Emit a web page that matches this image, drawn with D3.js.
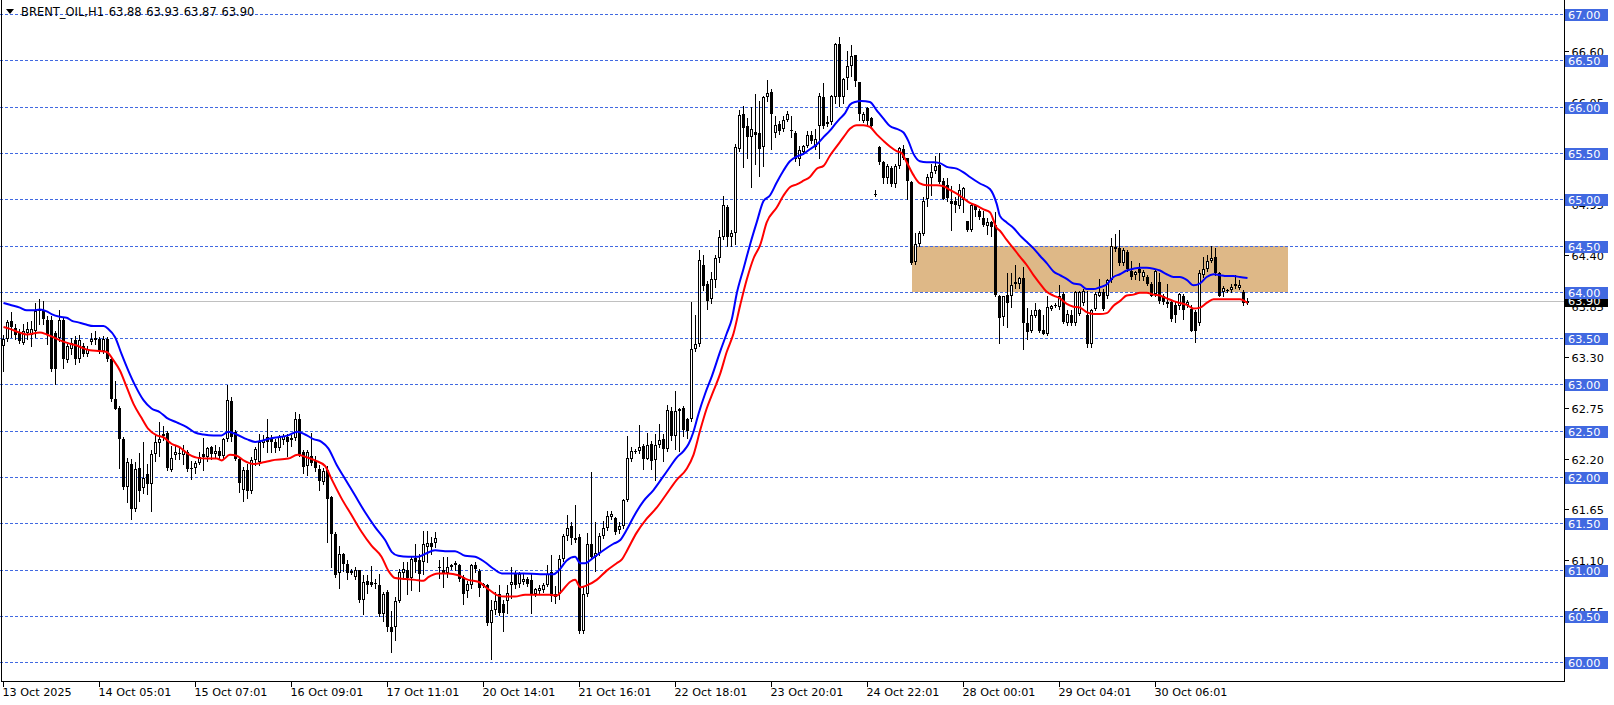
<!DOCTYPE html>
<html><head><meta charset="utf-8">
<script src="https://cdn.jsdelivr.net/npm/d3@7"></script>
<style>body{margin:0;background:#fff;overflow:hidden}svg{display:block}</style>
</head><body><svg id="chart" width="1614" height="705"></svg>
<script>
// ---------- DATA ----------
const chartTitle = "BRENT_OIL,H1 63.88 63.93 63.87 63.90";
// hourly candles: [open, high, low, close]
const ohlc = [
[63.42,63.53,63.15,63.49],[63.49,63.70,63.47,63.67],[63.69,63.78,63.51,63.62],[63.61,63.65,63.49,63.53],
[63.56,63.60,63.45,63.47],[63.45,63.65,63.44,63.58],[63.56,63.67,63.49,63.60],[63.53,63.69,63.42,63.60],
[63.58,63.88,63.51,63.79],[63.79,63.92,63.65,63.80],[63.80,63.90,63.65,63.71],[63.70,63.74,63.44,63.54],
[63.70,63.74,63.15,63.17],[63.56,63.58,63.01,63.17],[63.50,63.80,63.47,63.70],[63.70,63.73,63.18,63.27],
[63.26,63.44,63.24,63.42],[63.38,63.50,63.33,63.45],[63.48,63.52,63.22,63.27],[63.27,63.53,63.24,63.48],
[63.42,63.45,63.31,63.33],[63.33,63.41,63.31,63.38],[63.46,63.56,63.44,63.49],[63.50,63.58,63.44,63.48],
[63.49,63.51,63.34,63.36],[63.36,63.52,63.34,63.49],[63.49,63.51,63.25,63.28],[63.28,63.29,62.82,62.84],
[62.84,63.04,62.73,62.74],[62.75,62.77,62.10,62.41],[62.41,62.43,61.87,61.89],[61.89,62.21,61.73,62.16],
[62.14,62.19,61.55,61.65],[61.65,62.16,61.63,62.09],[62.10,62.26,61.74,61.85],[61.88,62.38,61.83,61.99],
[62.03,62.14,61.82,61.92],[61.92,62.29,61.63,62.25],[62.25,62.47,62.17,62.38],[62.37,62.59,62.23,62.41],
[62.44,62.55,62.40,62.47],[62.48,62.50,62.08,62.10],[62.08,62.34,62.07,62.21],[62.24,62.34,62.19,62.27],
[62.25,62.31,62.19,62.26],[62.24,62.35,62.14,62.29],[62.27,62.29,62.07,62.09],[62.10,62.17,61.98,62.09],
[62.10,62.17,62.04,62.15],[62.15,62.27,62.14,62.22],[62.25,62.42,62.08,62.22],[62.22,62.33,62.17,62.31],
[62.32,62.34,62.20,62.25],[62.25,62.35,62.22,62.28],[62.28,62.33,62.21,62.23],[62.23,62.42,62.20,62.41],
[62.41,62.99,62.39,62.83],[62.82,62.86,62.39,62.43],[62.49,62.51,62.18,62.20],[62.20,62.22,61.84,61.94],
[61.86,62.11,61.74,62.08],[62.08,62.14,61.77,61.85],[61.85,62.22,61.83,62.18],[62.18,62.33,62.13,62.30],
[62.16,62.47,62.13,62.38],[62.37,62.45,62.32,62.40],[62.43,62.63,62.27,62.38],[62.41,62.45,62.27,62.38],
[62.38,62.41,62.27,62.31],[62.31,62.45,62.29,62.43],[62.40,62.47,62.36,62.44],[62.43,62.47,62.23,62.38],
[62.40,62.45,62.34,62.42],[62.42,62.70,62.40,62.63],[62.63,62.68,62.23,62.24],[62.27,62.29,62.04,62.11],
[62.12,62.29,62.02,62.27],[62.23,62.48,62.13,62.15],[62.18,62.23,62.07,62.10],[62.09,62.13,61.86,61.96],
[61.95,62.10,61.93,62.07],[62.08,62.12,61.30,61.76],[61.78,61.80,61.03,61.39],[61.39,61.41,60.92,60.94],
[60.96,61.26,60.80,61.17],[61.17,61.18,60.99,61.06],[61.06,61.10,60.90,60.96],[60.99,61.01,60.95,60.96],
[60.92,61.03,60.90,61.00],[61.00,61.00,60.65,60.67],[60.67,60.94,60.52,60.87],[60.88,60.94,60.75,60.84],
[60.87,61.04,60.82,60.83],[60.86,60.90,60.80,60.85],[60.83,60.95,60.50,60.52],[60.52,60.76,60.45,60.74],
[60.76,60.78,60.34,60.38],[60.38,60.55,60.11,60.33],[60.38,60.71,60.24,60.66],[60.66,61.01,60.65,60.98],
[60.96,61.08,60.92,61.01],[61.00,61.08,60.74,60.91],[60.91,61.14,60.78,61.12],[61.13,61.28,60.98,61.08],
[61.10,61.17,60.77,60.95],[61.08,61.42,60.95,61.28],[61.25,61.42,61.08,61.29],[61.29,61.35,61.17,61.25],
[61.29,61.41,61.25,61.34],[61.03,61.10,60.91,61.02],[61.00,61.14,60.81,60.96],[60.96,61.14,60.92,61.03],
[61.03,61.06,61.01,61.05],[61.05,61.09,61.00,61.07],[61.05,61.06,60.88,60.90],[60.92,60.94,60.63,60.74],
[60.77,60.88,60.70,60.85],[60.83,61.06,60.80,61.05],[61.05,61.08,60.97,61.01],[60.99,61.01,60.72,60.80],
[60.82,60.86,60.81,60.85],[60.83,60.85,60.40,60.42],[60.42,60.67,60.04,60.56],[60.56,60.76,60.52,60.66],
[60.74,60.83,60.51,60.53],[60.63,60.67,60.34,60.53],[60.66,60.84,60.53,60.75],[60.83,61.03,60.69,60.87],
[60.95,60.99,60.80,60.83],[60.85,60.98,60.81,60.95],[60.87,60.95,60.85,60.90],[60.90,60.92,60.82,60.85],
[60.89,60.95,60.53,60.74],[60.74,60.80,60.72,60.79],[60.77,60.83,60.74,60.80],[60.78,60.86,60.76,60.84],
[60.84,61.05,60.82,60.95],[60.98,61.16,60.66,60.72],[60.74,60.82,60.64,60.70],[60.74,61.16,60.68,61.11],
[61.11,61.38,61.09,61.36],[61.36,61.59,61.32,61.45],[61.47,61.51,61.28,61.34],[61.34,61.70,61.30,61.32],
[61.35,61.38,60.32,60.34],[60.34,60.82,60.32,60.74],[60.74,61.40,60.72,61.28],[61.28,62.05,61.13,61.14],
[61.14,61.51,60.99,61.18],[61.18,61.40,61.16,61.36],[61.36,61.53,61.34,61.45],[61.45,61.63,61.43,61.58],
[61.57,61.63,61.55,61.60],[61.56,61.57,61.39,61.41],[61.43,61.52,61.40,61.47],[61.47,61.76,61.45,61.75],
[61.75,62.44,61.74,62.21],[62.19,62.32,62.17,62.28],[62.27,62.30,62.26,62.28],[62.28,62.56,62.26,62.33],
[62.34,62.36,62.09,62.20],[62.20,62.48,62.19,62.35],[62.36,62.39,62.09,62.17],[62.18,62.47,61.97,62.35],
[62.35,62.57,62.32,62.40],[62.41,62.47,62.17,62.30],[62.30,62.78,62.28,62.72],[62.71,62.76,62.40,62.44],
[62.44,62.93,62.30,62.71],[62.71,62.75,62.28,62.74],[62.75,62.77,62.44,62.51],[62.63,62.64,62.42,62.50],
[62.63,63.89,62.61,63.38],[63.38,63.75,63.36,63.44],[63.44,64.45,63.42,64.34],[64.29,64.40,64.02,64.06],
[64.09,64.12,63.82,63.90],[63.92,64.21,63.88,64.14],[64.13,64.40,64.05,64.37],[64.37,64.67,64.32,64.59],
[64.59,65.04,64.57,64.94],[64.92,64.94,64.49,64.59],[64.59,64.67,64.50,64.64],[64.63,65.60,64.52,65.56],
[65.54,65.96,65.52,65.91],[65.92,66.01,65.35,65.77],[65.79,65.88,65.44,65.67],[65.67,66.00,65.13,65.76],
[65.73,66.14,65.38,65.69],[65.72,66.06,65.25,65.54],[65.56,66.12,65.36,66.10],[66.10,66.29,66.06,66.15],
[66.16,66.19,65.54,65.92],[65.72,65.90,65.67,65.80],[65.81,65.85,65.70,65.74],[65.76,65.90,65.74,65.86],
[65.86,65.95,65.85,65.92],[65.75,65.90,65.67,65.74],[65.72,65.74,65.41,65.43],[65.43,65.58,65.37,65.53],
[65.51,65.59,65.49,65.57],[65.57,65.74,65.56,65.69],[65.69,65.74,65.61,65.63],[65.56,65.76,65.54,65.65],
[65.79,66.15,65.45,66.12],[66.10,66.26,65.77,65.79],[65.81,65.90,65.79,65.83],[65.83,66.13,65.81,66.12],
[66.10,66.69,66.04,66.68],[66.68,66.75,66.01,66.10],[66.10,66.31,66.04,66.30],[66.31,66.60,66.19,66.44],
[66.44,66.67,66.33,66.55],[66.56,66.56,66.22,66.28],[66.27,66.27,65.86,65.92],[65.85,65.94,65.83,65.92],
[65.98,66.00,65.79,65.85],[65.88,65.89,65.77,65.79],[65.06,65.10,65.04,65.05],[65.56,65.58,65.38,65.40],
[65.40,65.41,65.17,65.23],[65.23,65.38,65.18,65.36],[65.34,65.36,65.14,65.16],[65.16,65.38,65.13,65.36],
[65.36,65.56,65.34,65.55],[65.54,65.59,65.43,65.44],[65.44,65.45,65.00,65.20],[65.19,65.20,64.30,64.31],
[64.32,64.64,64.30,64.52],[64.52,64.66,64.50,64.63],[64.62,65.02,64.61,64.98],[65.00,65.27,64.93,65.24],
[65.23,65.38,65.05,65.29],[65.30,65.47,65.28,65.36],[65.37,65.50,65.18,65.19],[65.20,65.23,65.00,65.00],
[65.15,65.23,64.98,65.01],[64.98,65.14,64.67,64.95],[64.98,65.02,64.86,64.94],[64.93,65.16,64.91,65.10],
[64.99,65.13,64.86,65.12],[64.76,64.77,64.66,64.67],[64.67,64.95,64.66,64.94],[64.94,64.95,64.82,64.88],
[64.87,64.89,64.79,64.81],[64.80,64.87,64.71,64.72],[64.71,64.80,64.62,64.75],[64.75,64.77,64.60,64.70],
[64.72,64.86,63.96,63.97],[63.96,63.97,63.45,63.72],[63.73,63.96,63.64,63.95],[63.97,64.20,63.62,63.88],
[63.96,64.20,63.84,64.07],[64.08,64.29,64.04,64.11],[64.08,64.16,64.04,64.15],[64.15,64.27,63.38,63.66],
[63.66,63.83,63.49,63.57],[63.58,63.80,63.57,63.75],[63.74,63.88,63.73,63.80],[63.80,63.81,63.57,63.58],
[63.59,63.75,63.55,63.55],[63.55,63.95,63.53,63.84],[63.81,63.86,63.80,63.85],[63.85,63.88,63.84,63.86],
[63.84,64.07,63.82,63.96],[63.98,64.00,63.66,63.67],[63.66,63.80,63.64,63.76],[63.75,63.80,63.64,63.66],
[63.66,64.01,63.64,64.00],[63.76,64.01,63.75,64.00],[63.88,64.03,63.86,64.01],[63.75,64.01,63.40,63.44],
[63.44,63.82,63.40,63.80],[63.82,64.00,63.80,63.98],[63.96,64.14,63.95,64.00],[64.00,64.03,63.80,63.82],
[63.95,64.14,63.93,64.13],[64.13,64.58,64.11,64.49],[64.46,64.62,64.44,64.48],[64.47,64.67,64.29,64.31],
[64.31,64.47,64.29,64.45],[64.43,64.45,64.22,64.25],[64.23,64.33,64.14,64.16],[64.18,64.22,64.14,64.21],
[64.25,64.31,64.13,64.20],[64.16,64.24,64.13,64.21],[64.16,64.18,64.07,64.08],[64.09,64.11,63.95,63.96],
[63.98,64.24,63.96,64.22],[64.11,64.20,63.88,63.90],[63.96,63.98,63.87,63.89],[63.89,64.09,63.84,63.87],
[63.89,63.91,63.69,63.71],[63.86,63.89,63.67,63.75],[63.85,63.99,63.82,63.98],[63.96,63.98,63.71,63.80],
[63.86,63.91,63.84,63.89],[63.82,63.86,63.58,63.58],[63.78,63.80,63.46,63.58],[63.66,64.24,63.64,64.20],
[64.18,64.38,64.16,64.25],[64.25,64.40,64.23,64.33],[64.33,64.50,64.32,64.37],[64.38,64.47,64.18,64.20],
[64.20,64.21,63.95,63.96],[64.00,64.06,63.95,64.04],[64.02,64.03,64.00,64.01],[64.02,64.09,64.00,64.05],
[64.06,64.18,64.04,64.08],[64.04,64.13,64.03,64.07],[64.00,64.02,63.86,63.88],[63.88,63.93,63.87,63.90]
];
// moving average lines, [bar index, price]
const blueMA = [
[0,63.88],[1.6,63.86],[4.1,63.83],[5.8,63.80],[7.5,63.80],[9.1,63.81],[10.8,63.79],[12,63.76],[14.1,63.73],
[15.8,63.72],[17,63.69],[18.7,63.67],[20.4,63.65],[22.5,63.63],[25,63.63],[26.2,63.60],[27.9,63.51],[29.5,63.33],
[31.2,63.15],[32.9,62.99],[35,62.83],[37,62.74],[39.1,62.70],[40.8,62.64],[43.3,62.59],[45.8,62.54],[47.9,62.48],
[50,62.46],[52.5,62.45],[54.5,62.45],[56.2,62.49],[58.3,62.46],[60.8,62.41],[62.9,62.38],[67,62.42],[71.2,62.45],
[73.5,62.49],[75.4,62.46],[77.5,62.41],[79.5,62.38],[81.2,62.31],[83.3,62.13],[85.4,61.98],[87.9,61.80],[90.4,61.62],
[92.9,61.46],[95.4,61.32],[97.1,61.19],[98.7,61.15],[101.2,61.14],[103.7,61.14],[105.4,61.17],[107.9,61.21],
[110.4,61.20],[112.9,61.20],[115.4,61.15],[117.9,61.14],[120.4,61.08],[122.5,61.01],[124.6,60.96],[127,60.96],
[130,60.96],[134.2,60.95],[137.5,60.95],[138.8,60.99],[140.8,61.10],[142.9,61.14],[144.2,61.07],[145.4,61.07],
[147.5,61.13],[150,61.21],[152.5,61.28],[154.2,61.32],[155.8,61.43],[157.5,61.57],[160,61.74],[162.5,61.86],
[165,62.01],[166.3,62.09],[168.3,62.21],[170,62.28],[171.3,62.36],[172.5,62.49],[173.8,62.69],[175.4,62.90],
[177.1,63.09],[179.2,63.36],[180.8,63.55],[182.1,63.71],[183.3,63.98],[185,64.25],[186.7,64.52],[188.3,64.75],
[190,64.98],[191.6,65.04],[193.3,65.18],[195,65.31],[196.6,65.41],[198.3,65.46],[200,65.49],[201.6,65.54],
[203.3,65.59],[205,65.67],[206.6,65.74],[207.9,65.81],[209.1,65.87],[210.4,65.93],[211.6,66.02],[212.9,66.05],
[214.5,66.06],[216.6,66.05],[218.3,65.96],[220,65.87],[221.6,65.79],[223.3,65.76],[225,65.72],[226.2,65.63],
[227.5,65.49],[229.1,65.41],[230.8,65.40],[232.5,65.40],[234.1,65.39],[235.8,65.35],[238.3,65.33],[240,65.29],
[241.6,65.24],[244.1,65.17],[246.6,65.11],[248.3,64.95],[249.1,64.82],[250.8,64.75],[252.5,64.69],[254.1,64.61],
[255.8,64.54],[257.5,64.47],[259.1,64.39],[260.8,64.31],[262.5,64.22],[264.1,64.18],[265.8,64.14],[267.5,64.09],
[269.1,64.08],[270.8,64.03],[272.5,64.03],[274.1,64.05],[275.8,64.08],[277.5,64.16],[279.1,64.19],[280.8,64.23],
[282.5,64.25],[284.1,64.26],[285.8,64.26],[287.5,64.25],[289.1,64.23],[290.8,64.19],[292.5,64.16],[294.1,64.16],
[295.8,64.13],[297.5,64.07],[299.1,64.09],[300.8,64.16],[302.5,64.19],[304.1,64.18],[305.8,64.17],[307.5,64.17],
[309.1,64.16],[311,64.15]
];
const redMA = [
[0,63.62],[1.6,63.60],[4.1,63.56],[5.8,63.54],[9.1,63.56],[10.8,63.54],[12.5,63.51],[14.5,63.47],[16.6,63.44],
[18.3,63.42],[20,63.39],[21.6,63.37],[24.1,63.36],[25.8,63.35],[27.5,63.26],[29.1,63.15],[30.8,62.97],[32.5,62.79],
[34.5,62.64],[36.2,62.52],[38.3,62.45],[40,62.43],[42,62.36],[44.1,62.32],[45.8,62.26],[48.3,62.21],[50.8,62.20],
[53.3,62.20],[54.5,62.18],[56.6,62.24],[58.3,62.23],[60,62.18],[62.5,62.14],[65,62.16],[67,62.18],[71.2,62.20],
[73.5,62.24],[75.4,62.22],[77.9,62.18],[80.4,62.12],[82,61.98],[84.5,61.77],[87,61.59],[89.5,61.41],[92,61.26],
[94.5,61.14],[96.2,60.99],[97.9,60.91],[100.4,60.90],[102.9,60.89],[105,60.88],[106.2,60.92],[108.7,60.96],
[111.2,60.96],[113.7,60.94],[116.2,60.89],[118.7,60.87],[121.2,60.79],[123.7,60.72],[125.4,60.71],[127.9,60.71],
[130.4,60.73],[133,60.73],[136.7,60.73],[138.3,60.72],[139.6,60.77],[141.7,60.87],[142.9,60.89],[144.2,60.81],
[145.8,60.83],[148.3,60.89],[150.8,60.99],[153.3,61.07],[154.6,61.11],[155.8,61.20],[158.3,61.40],[160.8,61.55],
[163.3,61.67],[165.8,61.82],[168.3,61.97],[170.8,62.09],[172.5,62.24],[174.2,62.51],[175.8,62.74],[177.5,62.93],
[179.2,63.12],[180.8,63.35],[182.5,63.55],[184.2,63.86],[185.8,64.13],[187.5,64.36],[189.2,64.51],[190.8,64.75],
[193.3,64.91],[195,65.04],[196.6,65.13],[198.3,65.16],[200,65.20],[201.6,65.24],[203.3,65.33],[205,65.36],
[206.6,65.47],[208.3,65.57],[210,65.67],[211.6,65.76],[213.3,65.80],[215,65.80],[216.6,65.78],[218.3,65.70],
[220,65.63],[221.6,65.57],[223.3,65.52],[224.5,65.50],[225.8,65.40],[227.5,65.26],[229.1,65.17],[230.8,65.15],
[233.3,65.15],[235,65.14],[236.6,65.10],[238.3,65.06],[240,65.01],[241.6,64.96],[243.3,64.93],[245,64.89],
[246.6,64.86],[248.3,64.69],[249.1,64.66],[250.8,64.56],[252.5,64.47],[254.1,64.38],[255.8,64.29],[257.5,64.18],
[259.1,64.09],[260.8,64.00],[262.5,63.96],[264.1,63.93],[265.8,63.87],[267.5,63.84],[269.1,63.83],[270.8,63.78],
[272.5,63.76],[274.1,63.76],[275.8,63.77],[277.5,63.85],[279.1,63.90],[280.8,63.96],[282.5,63.97],[284.1,63.99],
[285.8,63.99],[287.5,63.97],[289.1,63.96],[290.8,63.93],[292.5,63.90],[294.1,63.88],[295.8,63.86],[297.5,63.82],
[299.1,63.83],[300.8,63.88],[302.5,63.92],[304.1,63.92],[305.8,63.92],[307.5,63.92],[309.1,63.92],[311,63.88]
];
const levelPrices = [60.00,60.50,61.00,61.50,62.00,62.50,63.00,63.50,64.00,64.50,65.00,65.50,66.00,66.50,67.00];
const priceTicks = [60.55,61.10,61.65,62.20,62.75,63.30,63.85,64.40,64.95,65.50,66.05,66.60];
const timeTickBars = [0,24,48,72,96,120,144,168,192,216,240,264,288];
const timeTickLabels = ["13 Oct 2025","14 Oct 05:01","15 Oct 07:01","16 Oct 09:01","17 Oct 11:01","20 Oct 14:01",
  "21 Oct 16:01","22 Oct 18:01","23 Oct 20:01","24 Oct 22:01","28 Oct 00:01","29 Oct 04:01","30 Oct 06:01"];
const zoneBars = [227, 321];
const zonePrices = [64.00, 64.50];
const lastPrice = 63.90;

// ---------- DRAWING ----------
const W = 1614, H = 705;
const plotRight = 1564.5, plotBottom = 681.5;
const FONT = "'DejaVu Sans', Tahoma, sans-serif";
const svg = d3.select("#chart");
svg.append("rect").attr("width", W).attr("height", H).attr("fill", "#fff");

const x = d3.scaleLinear().domain([0, 390]).range([3.5, 1563.5]);
const y = d3.scaleLinear().domain([60, 67]).range([662.3, 14]);
const snap = v => Math.round(v) + 0.5;

const plot = svg.append("g");

// zone rectangle (background)
plot.append("rect")
  .attr("x", Math.round(x(zoneBars[0])))
  .attr("y", Math.round(y(zonePrices[1])))
  .attr("width", Math.round(x(zoneBars[1])) - Math.round(x(zoneBars[0])))
  .attr("height", Math.round(y(zonePrices[0])) - Math.round(y(zonePrices[1])))
  .attr("fill", "#DEB887");

// horizontal level lines (dashed)
plot.selectAll("line.level").data(levelPrices).join("line")
  .attr("class", "level")
  .attr("x1", 0).attr("x2", plotRight)
  .attr("y1", d => snap(y(d))).attr("y2", d => snap(y(d)))
  .attr("stroke", "#4169E1").attr("stroke-width", 1)
  .attr("stroke-dasharray", "3,2").attr("shape-rendering", "crispEdges");

// last price line
plot.append("line")
  .attr("x1", 0).attr("x2", plotRight)
  .attr("y1", snap(y(lastPrice))).attr("y2", snap(y(lastPrice)))
  .attr("stroke", "#C0C0C0").attr("stroke-width", 1).attr("shape-rendering", "crispEdges");

// candles
const candles = plot.append("g").attr("shape-rendering", "crispEdges");
const cg = candles.selectAll("g").data(ohlc).join("g");
cg.append("rect")
  .attr("x", (d, i) => Math.floor(x(i)))
  .attr("width", 1)
  .attr("y", d => Math.round(y(d[1])))
  .attr("height", d => Math.max(1, Math.round(y(d[2])) - Math.round(y(d[1])) + 1))
  .attr("fill", "#000");
cg.each(function(d, i) {
  const g = d3.select(this);
  const px = Math.floor(x(i));
  const top = Math.round(y(Math.max(d[0], d[3])));
  const bot = Math.round(y(Math.min(d[0], d[3])));
  const h = bot - top;
  if (d[3] > d[0] && h >= 2) {
    g.append("rect").attr("x", px - 0.5).attr("y", top + 0.5).attr("width", 2).attr("height", h - 1)
      .attr("fill", "#fff").attr("stroke", "#000").attr("stroke-width", 1);
  } else {
    g.append("rect").attr("x", px - 1).attr("y", top).attr("width", 3).attr("height", Math.max(1, h))
      .attr("fill", "#000");
  }
});

// moving averages
const maLine = d3.line().x(d => x(d[0])).y(d => y(d[1])).curve(d3.curveMonotoneX);
plot.append("path").datum(blueMA).attr("d", maLine)
  .attr("fill", "none").attr("stroke", "#0000FF").attr("stroke-width", 2);
plot.append("path").datum(redMA).attr("d", maLine)
  .attr("fill", "none").attr("stroke", "#FF0000").attr("stroke-width", 2);

// frame
const frame = svg.append("g").attr("shape-rendering", "crispEdges").attr("stroke", "#000");
frame.append("line").attr("x1", 1.5).attr("x2", 1.5).attr("y1", 0).attr("y2", plotBottom);
frame.append("line").attr("x1", plotRight).attr("x2", plotRight).attr("y1", 0).attr("y2", plotBottom);
frame.append("line").attr("x1", 1).attr("x2", plotRight + 0.5).attr("y1", plotBottom).attr("y2", plotBottom);

// right price axis
const yAxis = d3.axisRight(y).tickValues(priceTicks).tickSize(4).tickPadding(3)
  .tickFormat(d3.format(".2f")).offset(0);
const ya = svg.append("g").attr("transform", `translate(${plotRight},0)`).call(yAxis);
ya.select(".domain").remove();
ya.selectAll(".tick").attr("transform", d => `translate(0,${snap(y(d))})`);
ya.selectAll(".tick line").attr("stroke", "#000").attr("shape-rendering", "crispEdges");
ya.selectAll(".tick text").attr("fill", "#000").attr("font-family", FONT).attr("font-size", 11.3).attr("dy", "0.36em");

// last price label (black)
const lpG = svg.append("g");
lpG.append("rect").attr("x", 1565).attr("y", Math.round(y(lastPrice)) - 6).attr("width", 43).attr("height", 12).attr("fill", "#000");
lpG.append("text").attr("x", 1568).attr("y", Math.round(y(lastPrice)) + 4).attr("fill", "#fff")
  .attr("font-family", FONT).attr("font-size", 11.3).text(lastPrice.toFixed(2));

// level labels (blue boxes)
const lvG = svg.append("g").selectAll("g").data(levelPrices).join("g");
lvG.append("rect").attr("x", 1565).attr("y", d => Math.round(y(d)) - 5).attr("width", 43).attr("height", 12)
  .attr("fill", "#4169E1");
lvG.append("text").attr("x", 1568).attr("y", d => Math.round(y(d)) + 5).attr("fill", "#fff")
  .attr("font-family", FONT).attr("font-size", 11.3).text(d => d.toFixed(2));

// bottom time axis
const xAxis = d3.axisBottom(x).tickValues(timeTickBars).tickSize(5).tickPadding(2)
  .tickFormat((d, i) => timeTickLabels[i]).offset(0);
const xa = svg.append("g").attr("transform", `translate(0,${plotBottom})`).call(xAxis);
xa.select(".domain").remove();
xa.selectAll(".tick line").attr("stroke", "#000").attr("shape-rendering", "crispEdges");
xa.selectAll(".tick text").attr("fill", "#000").attr("font-family", FONT).attr("font-size", 11.2)
  .attr("text-anchor", "start").attr("x", -1);

// title
svg.append("path").attr("d", "M6,9 L14,9 L10,14 Z").attr("fill", "#000");
svg.append("text").attr("x", 21).attr("y", 16).attr("font-family", FONT).attr("font-size", 11.5)
  .attr("word-spacing", 1).attr("fill", "#000").text(chartTitle);
</script>
</body></html>
